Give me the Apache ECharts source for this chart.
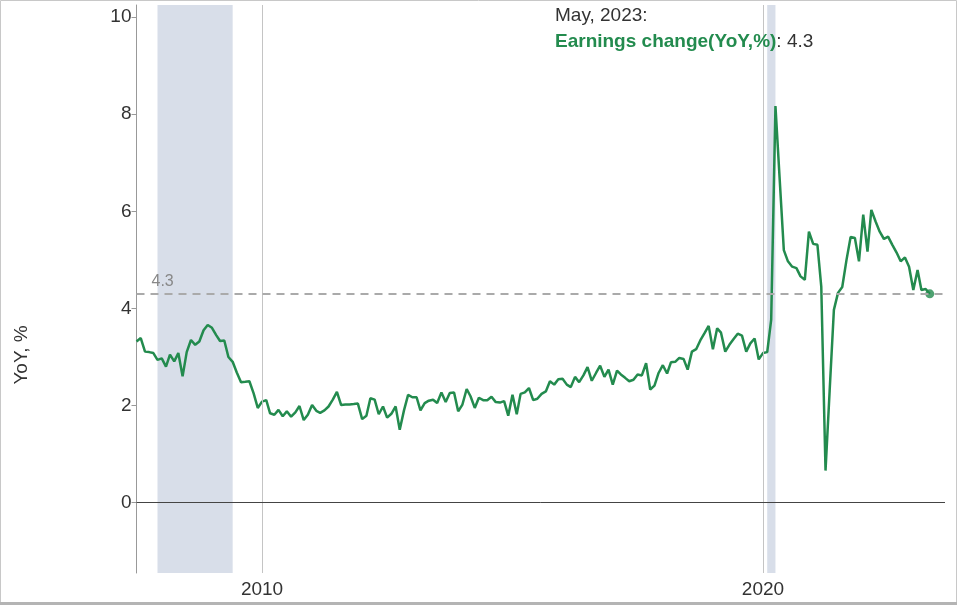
<!DOCTYPE html>
<html><head><meta charset="utf-8">
<script src="https://cdn.jsdelivr.net/npm/echarts@6/dist/echarts.min.js"></script>
<style>html,body{margin:0;padding:0;background:#fff}#c{width:957px;height:605px}</style>
</head><body><div id="c"></div>
<script>
// Monthly YoY earnings change (%), first point July 2007
const startYear = 2007, startMonth = 7;
const y2007 = [3.32, 3.39, 3.11, 3.10, 3.08, 2.94];
const y2008 = [2.97, 2.80, 3.05, 2.91, 3.08, 2.60, 3.10, 3.35, 3.25, 3.32, 3.55, 3.66];
const y2009 = [3.60, 3.45, 3.33, 3.34, 3.00, 2.90, 2.68, 2.48, 2.49, 2.50, 2.25, 1.95];
const y2010 = [2.08, 2.11, 1.84, 1.81, 1.91, 1.78, 1.88, 1.77, 1.86, 1.99, 1.70, 1.81];
const y2011 = [2.01, 1.89, 1.85, 1.90, 1.98, 2.12, 2.28, 2.01, 2.02, 2.02, 2.03, 2.04];
const y2012 = [1.72, 1.79, 2.15, 2.12, 1.82, 1.98, 1.75, 1.83, 1.98, 1.50, 1.90, 2.22];
const y2013 = [2.17, 2.17, 1.90, 2.05, 2.10, 2.12, 2.05, 2.27, 2.07, 2.26, 2.27, 1.88];
const y2014 = [2.02, 2.34, 2.19, 1.95, 2.16, 2.11, 2.11, 2.18, 2.07, 2.06, 2.09, 1.79];
const y2015 = [2.22, 1.82, 2.24, 2.27, 2.36, 2.11, 2.14, 2.24, 2.29, 2.50, 2.43, 2.54];
const y2016 = [2.55, 2.43, 2.38, 2.59, 2.48, 2.62, 2.79, 2.51, 2.67, 2.82, 2.59, 2.74];
const y2017 = [2.43, 2.72, 2.64, 2.57, 2.50, 2.53, 2.64, 2.62, 2.87, 2.33, 2.41, 2.67];
const y2018 = [2.83, 2.66, 2.89, 2.90, 2.98, 2.96, 2.74, 3.11, 3.16, 3.34, 3.49, 3.64];
const y2019 = [3.16, 3.59, 3.50, 3.11, 3.25, 3.37, 3.48, 3.44, 3.11, 3.28, 3.38, 2.95];
const y2020 = [3.08, 3.10, 3.77, 8.17, 6.70, 5.20, 4.97, 4.86, 4.83, 4.66, 4.59, 5.58];
const y2021 = [5.33, 5.31, 4.45, 0.66, 2.30, 3.97, 4.32, 4.44, 5.00, 5.47, 5.45, 4.97];
const y2022 = [5.93, 5.17, 6.03, 5.79, 5.58, 5.43, 5.48, 5.31, 5.15, 4.97, 5.05, 4.86];
const y2023 = [4.38, 4.79, 4.38, 4.40, 4.30];

const yTickValues = [0, 2, 4, 6, 8, 10];
const xTickDates = ['2010-01-01', '2020-01-01'];
const recessionStarts = ['2007-12-01', '2020-02-01'];
const recessionEnds = ['2009-06-01', '2020-04-01'];
const latestValue = 4.3;
const latestLabel = 'May, 2023:';
const seriesName = 'Earnings change(YoY,%)';
const yAxisName = 'YoY, %';

const GREEN = '#238b4e';
const FONT = 'Liberation Sans, Arial, sans-serif';
const values = [].concat(y2007, y2008, y2009, y2010, y2011, y2012, y2013, y2014, y2015, y2016, y2017, y2018, y2019, y2020, y2021, y2022, y2023);
const data = values.map((v, i) => {
  const mm = startMonth - 1 + i;
  const y = startYear + Math.floor(mm / 12);
  const m = (mm % 12) + 1;
  return [y + '-' + String(m).padStart(2, '0') + '-01', v];
});
const last = data[data.length - 1];

const chart = echarts.init(document.getElementById('c'), null, {renderer: 'canvas'});
chart.setOption({
  animation: false,
  backgroundColor: '#fff',
  textStyle: {fontFamily: FONT},
  grid: {left: 136.5, right: 12, top: 5, bottom: 32, containLabel: false},
  xAxis: {
    type: 'time',
    min: data[0][0],
    max: '2023-08-20',
    axisLine: {show: false},
    axisTick: {show: false},
    splitLine: {show: false},
    axisLabel: {show: false}
  },
  yAxis: {
    type: 'value',
    min: -1.45, max: 10.25,
    axisLine: {show: true, lineStyle: {color: '#999', width: 1}},
    axisTick: {show: true, customValues: yTickValues, length: 5, lineStyle: {color: '#999'}},
    splitLine: {show: false},
    axisLabel: {customValues: yTickValues, fontSize: 19, color: '#333', margin: 5}
  },
  series: [
    {
      type: 'line', name: 'bg', data: data, z: 1, silent: true,
      symbol: 'none', lineStyle: {opacity: 0}, itemStyle: {opacity: 0},
      markArea: {
        silent: true,
        itemStyle: {color: '#d8dee9'},
        data: recessionStarts.map((s, i) => [{xAxis: s}, {xAxis: recessionEnds[i]}])
      },
      markLine: {
        silent: true, symbol: 'none', animation: false,
        label: {show: true, position: 'start', distance: 7, color: '#333', fontSize: 19, fontFamily: FONT,
                formatter: p => String(new Date(p.value).getFullYear())},
        lineStyle: {color: '#c4c4c4', width: 1, type: 'solid'},
        data: xTickDates.map(d => ({xAxis: d}))
      }
    },
    {
      type: 'line', name: seriesName, data: data, z: 3,
      symbol: 'none', smooth: false,
      lineStyle: {color: GREEN, width: 2.5},
      itemStyle: {color: GREEN},
      markLine: {
        silent: true, symbol: 'none', animation: false,
        data: [
          {yAxis: 0, lineStyle: {color: '#444', width: 1, type: 'solid'}, label: {show: false}},
          {yAxis: latestValue, lineStyle: {color: '#aaa', width: 2, type: [8, 6]},
           label: {show: true, position: 'insideStartTop', formatter: String(latestValue), color: '#888', fontSize: 16, distance: [15, 4]}}
        ]
      }
    },
    {
      type: 'scatter', name: 'last', data: [last], z: 4,
      symbolSize: 9, itemStyle: {color: GREEN}
    }
  ],
  graphic: [
    {type: 'rect', shape: {x: 0.5, y: 0.5, width: 956, height: 603}, style: {fill: 'none', stroke: '#c8c8c8', lineWidth: 1}, z: 100, silent: true},
    {type: 'line', shape: {x1: 0, y1: 603.5, x2: 957, y2: 603.5}, style: {stroke: '#b4b4b4', lineWidth: 3}, z: 100, silent: true},
    {type: 'text', x: 22, y: 355, rotation: Math.PI / 2,
     style: {text: yAxisName, fill: '#333', fontSize: 19, fontFamily: FONT, align: 'center', verticalAlign: 'middle'}, z: 100},
    {type: 'text', left: 555, top: 6,
     style: {text: latestLabel, fill: '#333', fontSize: 19, fontFamily: FONT}, z: 100},
    {type: 'text', left: 555, top: 32,
     style: {
       text: '{g|' + seriesName + '}: ' + latestValue,
       fill: '#333', fontSize: 19, fontFamily: FONT,
       rich: {g: {fill: GREEN, fontWeight: 'bold', fontSize: 19, fontFamily: FONT}}
     }, z: 100}
  ]
});
</script>
</body></html>
